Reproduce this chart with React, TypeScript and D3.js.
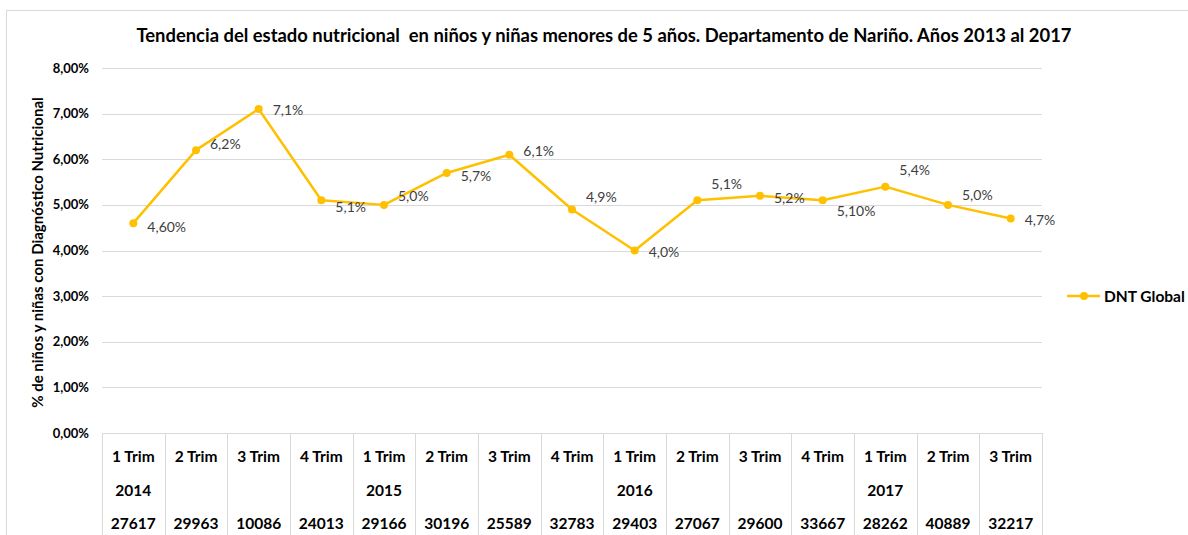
import { useEffect, useRef } from 'react'
import * as d3 from 'd3'

const quarters = ['1 Trim', '2 Trim', '3 Trim', '4 Trim', '1 Trim', '2 Trim', '3 Trim', '4 Trim', '1 Trim', '2 Trim', '3 Trim', '4 Trim', '1 Trim', '2 Trim', '3 Trim']
const years = ['2014', '', '', '', '2015', '', '', '', '2016', '', '', '', '2017', '', '']
const counts = ['27617', '29963', '10086', '24013', '29166', '30196', '25589', '32783', '29403', '27067', '29600', '33667', '28262', '40889', '32217']
const dntGlobal = [0.046, 0.062, 0.071, 0.051, 0.05, 0.057, 0.061, 0.049, 0.04, 0.051, 0.052, 0.051, 0.054, 0.05, 0.047]
const valueLabels = ['4,60%', '6,2%', '7,1%', '5,1%', '5,0%', '5,7%', '6,1%', '4,9%', '4,0%', '5,1%', '5,2%', '5,10%', '5,4%', '5,0%', '4,7%']
const yTicks = [0, 0.01, 0.02, 0.03, 0.04, 0.05, 0.06, 0.07, 0.08]

// vertical nudge of each data label relative to its point (Excel placed them by hand)
const labelDy = [4, -6, 1, 7, -9, 3, -4, -12, 1, -16, 2, 11, -17, -10, 1]

const W = 1188
const H = 535
const FONT = 'Lato, "Open Sans", sans-serif'
const GOLD = '#FFC000'

export default function App() {
  const svgRef = useRef<SVGSVGElement | null>(null)

  useEffect(() => {
    const svgEl = svgRef.current
    if (!svgEl) return
    const svg = d3.select(svgEl)
    svg.selectAll('*').remove()

    const plot = { left: 102, right: 1042, top: 68, bottom: 433 }

    const x = d3
      .scaleBand<number>()
      .domain(d3.range(dntGlobal.length))
      .range([plot.left, plot.right])
    const cx = (i: number) => (x(i) as number) + x.bandwidth() / 2

    const y = d3.scaleLinear().domain([0, 0.08]).range([plot.bottom, plot.top])
    const pct = (v: number) => d3.format('.2f')(v * 100).replace('.', ',') + '%'

    svg.append('rect')
      .attr('x', 6.5).attr('y', 10.5)
      .attr('width', W).attr('height', H)
      .attr('fill', '#fff').attr('stroke', '#d9d9d9')

    svg.append('text')
      .attr('x', 604).attr('y', 42)
      .attr('text-anchor', 'middle')
      .style('white-space', 'pre')
      .attr('font-family', FONT).attr('font-weight', 700).attr('font-size', 18.4)
      .attr('fill', '#000')
      .text('Tendencia del estado nutricional  en niños y niñas menores de 5 años. Departamento de Nariño. Años 2013 al 2017')

    // gridlines
    svg.append('g')
      .selectAll('line')
      .data(yTicks.filter((t) => t > 0))
      .join('line')
      .attr('x1', plot.left).attr('x2', plot.right)
      .attr('y1', (d) => Math.round(y(d)) + 0.5).attr('y2', (d) => Math.round(y(d)) + 0.5)
      .attr('stroke', '#d9d9d9')

    // y tick labels
    svg.append('g')
      .selectAll('text')
      .data(yTicks)
      .join('text')
      .attr('x', 89).attr('y', (d) => y(d) + 4.5)
      .attr('text-anchor', 'end')
      .attr('font-family', FONT).attr('font-weight', 700).attr('font-size', 13)
      .attr('fill', '#000')
      .text((d) => pct(d))

    svg.append('text')
      .attr('transform', `translate(43,${(plot.top + plot.bottom) / 2 + 2}) rotate(-90)`)
      .attr('text-anchor', 'middle')
      .attr('font-family', FONT).attr('font-weight', 700).attr('font-size', 15)
      .attr('fill', '#000')
      .text('% de niños y niñas con Diagnóstico Nutricional')

    // data table under the axis
    const table = svg.append('g')
    table.append('line')
      .attr('x1', plot.left).attr('x2', plot.right)
      .attr('y1', plot.bottom + 0.5).attr('y2', plot.bottom + 0.5)
      .attr('stroke', '#d9d9d9')
    table.selectAll('line.col')
      .data(d3.range(dntGlobal.length + 1))
      .join('line')
      .attr('class', 'col')
      .attr('x1', (i) => Math.round(plot.left + i * x.bandwidth()) + 0.5)
      .attr('x2', (i) => Math.round(plot.left + i * x.bandwidth()) + 0.5)
      .attr('y1', plot.bottom).attr('y2', H)
      .attr('stroke', '#d9d9d9')

    const rows = [quarters, years, counts]
    const rowY = [462, 496, 529]
    rows.forEach((row, r) => {
      table.append('g')
        .selectAll('text')
        .data(row)
        .join('text')
        .attr('x', (_, i) => cx(i)).attr('y', rowY[r])
        .attr('text-anchor', 'middle')
        .attr('font-family', FONT).attr('font-weight', 700).attr('font-size', 15.5)
        .attr('fill', '#000')
        .text((d) => d)
    })

    // series
    const line = d3.line<number>().x((_, i) => cx(i)).y((d) => y(d))
    svg.append('path')
      .datum(dntGlobal)
      .attr('d', line)
      .attr('fill', 'none')
      .attr('stroke', GOLD).attr('stroke-width', 2.5)
      .attr('stroke-linejoin', 'round')

    svg.append('g')
      .selectAll('circle')
      .data(dntGlobal)
      .join('circle')
      .attr('cx', (_, i) => cx(i)).attr('cy', (d) => y(d))
      .attr('r', 4).attr('fill', GOLD)

    svg.append('g')
      .selectAll('text')
      .data(valueLabels)
      .join('text')
      .attr('x', (_, i) => cx(i) + 14)
      .attr('y', (_, i) => y(dntGlobal[i]) + labelDy[i] + 5)
      .attr('font-family', FONT).attr('font-size', 14)
      .attr('fill', '#404040')
      .text((d) => d)

    // legend
    const lg = svg.append('g').attr('transform', 'translate(1067,296)')
    lg.append('line').attr('x1', 0).attr('x2', 33).attr('stroke', GOLD).attr('stroke-width', 2.5)
    lg.append('circle').attr('cx', 17).attr('r', 4).attr('fill', GOLD)
    lg.append('text')
      .attr('x', 37).attr('y', 5.5)
      .attr('font-family', FONT).attr('font-weight', 700).attr('font-size', 15.5)
      .attr('fill', '#000')
      .text('DNT Global')
  }, [])

  return (
    <svg
      ref={svgRef}
      width={W}
      height={H}
      style={{ position: 'absolute', left: 0, top: 0, display: 'block' }}
    />
  )
}
